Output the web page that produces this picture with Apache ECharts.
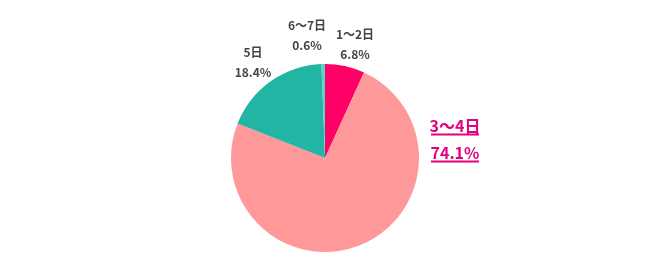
<!DOCTYPE html>
<html><head><meta charset="utf-8">
<script src="https://cdn.jsdelivr.net/npm/echarts@6/dist/echarts.min.js"></script>
<style>html,body{margin:0;padding:0;background:#fff}#c{width:650px;height:265px}</style>
</head><body><div id="c"></div>
<script>
const categories = ['1～2日', '3～4日', '5日', '6～7日'];
const values = [6.8, 74.1, 18.4, 0.6];
const colors = ['#FF0066', '#FF9999', '#22B5A3', '#5ED0C6'];

const labelPos = [
  {x: 355, y: 44},
  {x: 455, y: 141},
  {x: 253, y: 62},
  {x: 307, y: 35}
];
const font = '"Noto Sans CJK JP", "Noto Sans", sans-serif';

const chart = echarts.init(document.getElementById('c'), null, {renderer: 'canvas'});
chart.setOption({
  animation: false,
  series: [{
    type: 'pie',
    center: [325, 158],
    radius: [0, 94],
    startAngle: 90,
    clockwise: true,
    avoidLabelOverlap: false,
    labelLine: {show: false},
    itemStyle: {borderWidth: 0},
    data: categories.map((c, i) => ({
      name: c,
      value: values[i],
      itemStyle: {color: colors[i]},
      label: i === 1 ? {
        formatter: '{t|' + c + '}\n{u|}\n{s|}\n{t|' + values[i].toFixed(1) + '%}\n{u|}',
        rich: {
          t: {fontSize: 16, fontWeight: 'bold', color: '#E4007F', fontFamily: font, lineHeight: 14, align: 'center'},
          u: {width: 48, height: 2, lineHeight: 3, backgroundColor: '#E4007F', align: 'center'},
          s: {height: 10, lineHeight: 10}
        }
      } : {
        formatter: '{a|' + c + '}\n{a|' + values[i].toFixed(1) + '%}',
        rich: {
          a: {fontSize: 12, fontWeight: 'bold', color: '#444', fontFamily: font, lineHeight: 20, align: 'center'}
        }
      }
    })),
    label: {show: true, position: 'outside'},
    labelLayout: function (p) {
      const pos = labelPos[p.dataIndex];
      return {x: pos.x, y: pos.y, align: 'center', verticalAlign: 'middle', hideOverlap: false};
    }
  }]
});
</script>
</body></html>
